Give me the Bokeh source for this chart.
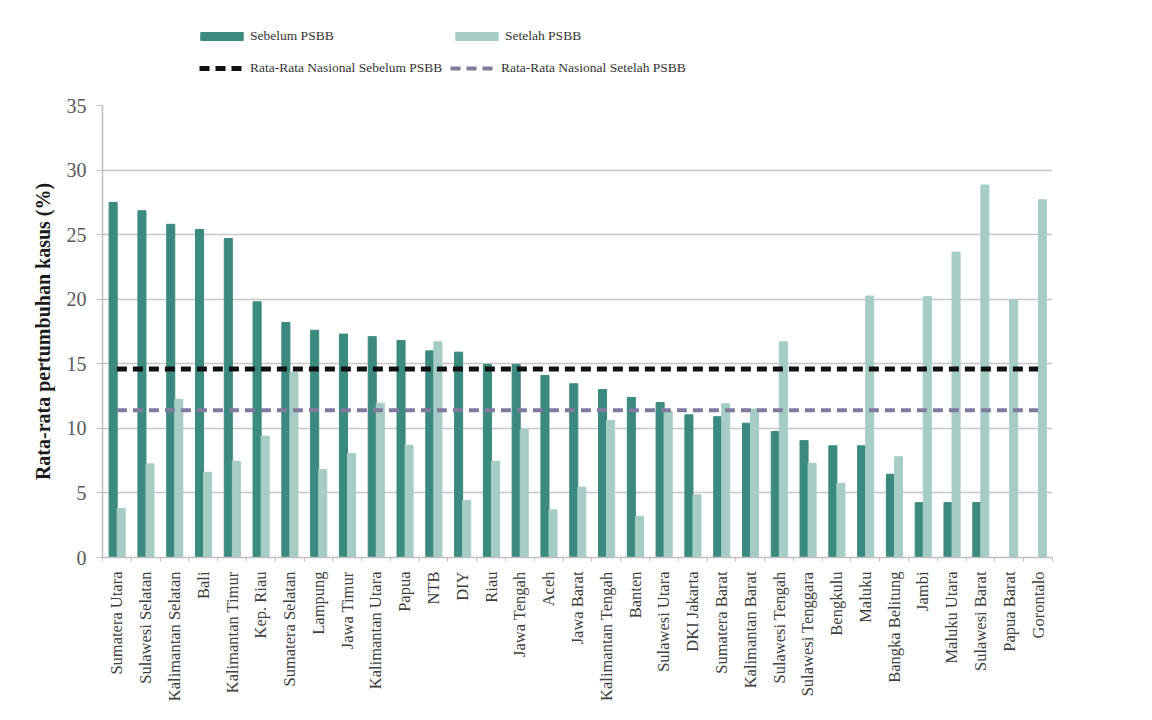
from bokeh.plotting import figure
from bokeh.layouts import column
from bokeh.models import (FactorRange, Range1d, Legend, LegendItem, CategoricalAxis,
                          LinearAxis, FixedTicker, ColumnDataSource)
from bokeh.transform import dodge
from bokeh.embed import file_html
from bokeh.resources import INLINE

provinces = ["Sumatera Utara", "Sulawesi Selatan", "Kalimantan Selatan", "Bali",
             "Kalimantan Timur", "Kep. Riau", "Sumatera Selatan", "Lampung",
             "Jawa Timur", "Kalimantan Utara", "Papua", "NTB", "DIY", "Riau",
             "Jawa Tengah", "Aceh", "Jawa Barat", "Kalimantan Tengah", "Banten",
             "Sulawesi Utara", "DKI Jakarta", "Sumatera Barat", "Kalimantan Barat",
             "Sulawesi Tengah", "Sulawesi Tenggara", "Bengkulu", "Maluku",
             "Bangka Belitung", "Jambi", "Maluku Utara", "Sulawesi Barat",
             "Papua Barat", "Gorontalo"]
sebelum = [27.5, 26.85, 25.8, 25.4, 24.7, 19.8, 18.2, 17.6, 17.3, 17.1, 16.8, 16.0,
           15.9, 14.95, 14.95, 14.1, 13.45, 13.0, 12.4, 12.0, 11.05, 10.9, 10.4,
           9.75, 9.05, 8.65, 8.65, 6.45, 4.25, 4.25, 4.25, 0.0, 0.0]
setelah = [3.8, 7.25, 12.25, 6.6, 7.45, 9.4, 14.35, 6.8, 8.05, 11.95, 8.7, 16.7,
           4.4, 7.45, 9.9, 3.7, 5.45, 10.6, 3.2, 11.3, 4.85, 11.9, 11.5,
           16.7, 7.3, 5.75, 20.25, 7.8, 20.2, 23.65, 28.85, 19.95, 27.7]
avg_sebelum = 14.6
avg_setelah = 11.4
y_ticks = [0, 5, 10, 15, 20, 25, 30, 35]

DARK = "#3b8a7f"
LIGHT = "#a6cdc5"
PURPLE = "#807b9e"
BLACK = "#111111"
SERIF = "Liberation Serif"

src = ColumnDataSource(dict(prov=provinces, sebelum=sebelum, setelah=setelah))
line_src = ColumnDataSource(dict(x=[provinces[0], provinces[-1]],
                                 a=[avg_sebelum, avg_sebelum],
                                 b=[avg_setelah, avg_setelah]))


def draw_series(fig):
    b1 = fig.vbar(x=dodge("prov", -0.13, range=fig.x_range), top="sebelum", width=0.28,
                  source=src, color=DARK)
    b2 = fig.vbar(x=dodge("prov", 0.15, range=fig.x_range), top="setelah", width=0.28,
                  source=src, color=LIGHT)
    l1 = fig.line(x="x", y="a", source=line_src, line_color=BLACK, line_width=5,
                  line_dash="10 6")
    l2 = fig.line(x="x", y="b", source=line_src, line_color=PURPLE, line_width=4,
                  line_dash="10 6")
    return b1, b2, l1, l2


# ---------------- main chart ----------------
p = figure(width=1136, height=611, x_range=FactorRange(*provinces, range_padding=0),
           y_range=Range1d(0, 35), output_backend="svg", toolbar_location=None,
           x_axis_location=None,
           min_border_left=102, min_border_right=84, min_border_top=12,
           min_border_bottom=147)
p.outline_line_color = None
p.xgrid.grid_line_color = None
p.ygrid.grid_line_color = "#c8c8c8"
p.ygrid.grid_line_width = 1.5
draw_series(p)

ya = p.yaxis[0]
ya.ticker = FixedTicker(ticks=y_ticks)
ya.axis_line_color = "#c0c0c0"
ya.axis_line_width = 1.5
ya.major_tick_line_color = "#c0c0c0"
ya.major_tick_out = 6
ya.major_tick_in = 0
ya.minor_tick_line_color = None
ya.major_label_text_font = SERIF
ya.major_label_text_font_size = "20px"
ya.major_label_text_color = "#595959"
ya.major_label_standoff = 10
ya.axis_label = "Rata-rata pertumbuhan kasus (%)"
ya.axis_label_text_font = SERIF
ya.axis_label_text_font_style = "bold"
ya.axis_label_text_font_size = "20px"
ya.axis_label_text_color = "#1a1a1a"
ya.axis_label_standoff = 10

# tick marks at category boundaries (synthetic coordinates 0..N of the factor range)
ta = LinearAxis(ticker=FixedTicker(ticks=list(range(len(provinces) + 1))))
ta.axis_line_color = "#c0c0c0"
ta.axis_line_width = 1.5
ta.major_tick_line_color = "#c0c0c0"
ta.major_tick_out = 4
ta.major_tick_in = 0
ta.minor_tick_line_color = None
ta.major_label_text_font_size = "1px"
ta.major_label_text_color = None
ta.major_label_standoff = 0
p.add_layout(ta, "below")

xa = CategoricalAxis()
xa.axis_line_color = None
xa.major_tick_line_color = None
xa.major_label_orientation = 1.5707963
xa.major_label_text_font = SERIF
xa.major_label_text_font_size = "16.5px"
xa.major_label_text_color = "#404040"
xa.major_label_standoff = 4
p.add_layout(xa, "below")

# ---------------- legend strip (same series, out of its visible y-range) ----------------
lf = figure(width=1136, height=93, x_range=FactorRange(*provinces, range_padding=0),
            y_range=Range1d(100, 101), output_backend="svg", toolbar_location=None,
            x_axis_location=None, y_axis_location=None,
            min_border_left=0, min_border_right=0, min_border_top=0,
            min_border_bottom=0)
lf.outline_line_color = None
lf.xgrid.grid_line_color = None
lf.ygrid.grid_line_color = None
e1, e2, e3, e4 = draw_series(lf)

leg1 = Legend(items=[LegendItem(label="Sebelum PSBB", renderers=[e1]),
                     LegendItem(label="Setelah PSBB", renderers=[e2])],
              orientation="horizontal", location=(93, 49))
leg2 = Legend(items=[LegendItem(label="Rata-Rata Nasional Sebelum PSBB", renderers=[e3]),
                     LegendItem(label="Rata-Rata Nasional Setelah PSBB", renderers=[e4])],
              orientation="horizontal", location=(97, 17))
for lg in (leg1, leg2):
    lg.glyph_height = 10
    lg.label_text_font = SERIF
    lg.label_text_font_size = "13.5px"
    lg.label_text_color = "#333333"
    lg.label_width = 196
    lg.spacing = 4
    lg.padding = 4
    lg.margin = 0
    lg.border_line_color = None
    lg.background_fill_alpha = 0
    lg.label_height = 14
    lf.add_layout(lg)
leg1.glyph_width = 53
leg1.label_standoff = 2
leg2.glyph_width = 45
leg2.label_standoff = 6

page = column(lf, p, spacing=0)
open("out.html", "w").write(file_html(page, INLINE))
